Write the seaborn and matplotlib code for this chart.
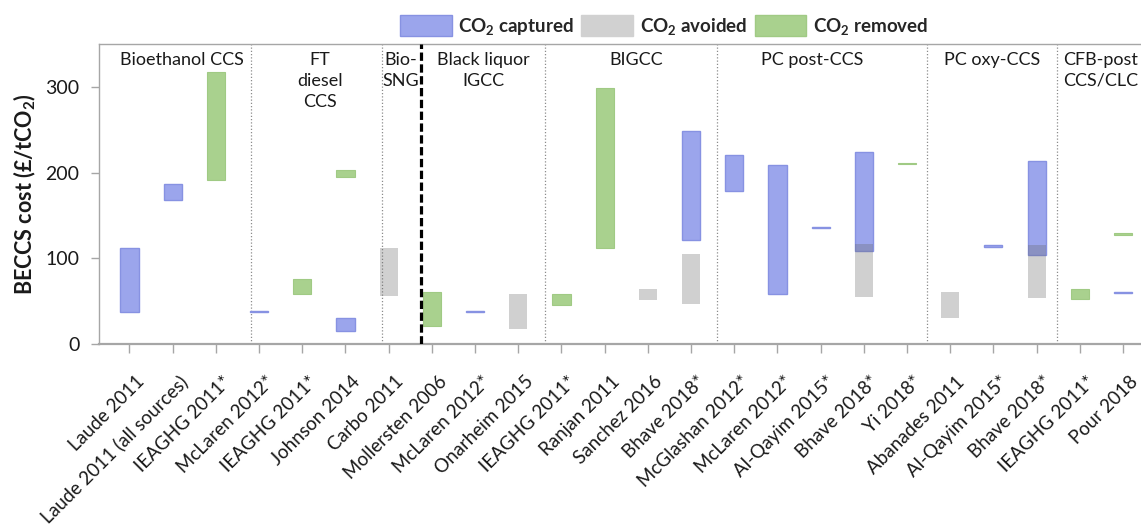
import numpy as np
import pandas as pd
import matplotlib
matplotlib.use("Agg")
import matplotlib.pyplot as plt
import matplotlib.transforms as mtransforms
from matplotlib.patches import Patch
import seaborn as sns

# ---- data -----------------------------------------------------------------
studies = ["Laude 2011", "Laude 2011 (all sources)", "IEAGHG 2011*", "McLaren 2012*",
           "IEAGHG 2011*", "Johnson 2014", "Carbo 2011", "Mollersten 2006",
           "McLaren 2012*", "Onarheim 2015", "IEAGHG 2011*", "Ranjan 2011",
           "Sanchez 2016", "Bhave 2018*", "McGlashan 2012*", "McLaren 2012*",
           "Al-Qayim 2015*", "Bhave 2018*", "Yi 2018*", "Abanades 2011",
           "Al-Qayim 2015*", "Bhave 2018*", "IEAGHG 2011*", "Pour 2018"]

# cost ranges (£/tCO2): study index, low, high
captured_idx = [0, 1, 3, 5, 8, 13, 14, 15, 16, 17, 20, 21, 23]
captured_low = [37, 168, 37, 15, 37, 121, 178, 58, 135.5, 109, 113.5, 104, 59.5]
captured_high = [112, 187, 38.5, 30, 38.5, 249, 221, 209, 137, 224, 115, 214, 61]

avoided_idx = [6, 9, 12, 13, 17, 19, 21]
avoided_low = [56, 17, 51, 47, 55, 30, 54]
avoided_high = [112, 58, 64, 105, 117, 61, 115]

removed_idx = [2, 4, 5, 7, 10, 11, 18, 22, 23]
removed_low = [191, 58, 195, 21, 46, 112, 210, 53, 127.5]
removed_high = [317, 76, 203, 61, 58, 299, 211.5, 64, 129]

groups = ["Bioethanol CCS", "FT\ndiesel\nCCS", "Bio-\nSNG", "Black liquor\nIGCC",
          "BIGCC", "PC post-CCS", "PC oxy-CCS", "CFB-post\nCCS/CLC"]
group_centers = [1.22, 4.41, 6.28, 8.19, 11.73, 15.81, 19.97, 22.48]
dividers = [2.82, 5.85, 9.61, 13.6, 18.47, 21.47]
bio_divider = 6.74

# ---- style ----------------------------------------------------------------
sns.set_theme(style="ticks")
plt.rcParams["font.family"] = ["Lato", "DejaVu Sans"]
plt.rcParams["mathtext.fontset"] = "custom"
plt.rcParams["mathtext.rm"] = "Lato"
plt.rcParams["mathtext.bf"] = "Lato:bold"
plt.rcParams["mathtext.it"] = "Lato:italic"

BLUE, BLUE_EDGE = "#9ba5ec", "#8792e2"
GREY = "#646464"
GREEN, GREEN_EDGE = "#a9d18e", "#a0ca84"
AXIS_GREY = "#a6a6a6"
TXT = "#1a1a1a"

fig = plt.figure(figsize=(11.41, 5.27), dpi=100)
ax = fig.add_axes([99 / 1141, 1 - 344 / 527, (1142 - 99) / 1141, 300 / 527])


def series_frame(idx, low, high):
    df = pd.DataFrame({"pos": idx, "low": low, "high": high}).sort_values("pos")
    df["span"] = df["high"] - df["low"]
    return df


cap = series_frame(captured_idx, captured_low, captured_high)
avo = series_frame(avoided_idx, avoided_low, avoided_high)
rem = series_frame(removed_idx, removed_low, removed_high)

common = dict(x="pos", y="span", native_scale=True, width=0.42, errorbar=None,
              saturation=1, ax=ax)
sns.barplot(data=cap, bottom=cap["low"].to_numpy(), color=BLUE,
            edgecolor=BLUE_EDGE, linewidth=1.0, **common)
sns.barplot(data=avo, bottom=avo["low"].to_numpy(), color=GREY, alpha=0.3,
            linewidth=0, **common)
sns.barplot(data=rem, bottom=rem["low"].to_numpy(), color=GREEN,
            edgecolor=GREEN_EDGE, linewidth=0.8, **common)

# technology group separators
for xd in dividers:
    ax.axvline(xd, color="#8c8c8c", lw=0.9, ls=(0, (1, 1.6)), zorder=0)
ax.axvline(bio_divider, color="black", lw=2.3, ls=(0, (2.6, 1.1)), zorder=3)

# group titles
for label, xc in zip(groups, group_centers):
    ax.text(xc, 341, label, ha="center", va="top", fontsize=13, color=TXT,
            linespacing=1.38)

# axes
ax.set_xlim(-0.706, 23.44)
ax.set_ylim(0, 350)
ax.set_yticks([0, 100, 200, 300])
ax.set_xticks(range(len(studies)))
ax.set_xticklabels([])
ax.tick_params(axis="x", length=6.5, width=1, color=AXIS_GREY, pad=3)
ax.tick_params(axis="y", length=6, width=1, color=AXIS_GREY, pad=8,
               labelsize=14, labelcolor=TXT)

# rotated study names, ending just right of and below each tick
label_tf = ax.get_xaxis_transform() + mtransforms.ScaledTranslation(
    12 / 100, -35 / 100, fig.dpi_scale_trans)
for i, name in enumerate(studies):
    ax.text(i, 0, name, transform=label_tf, rotation=45, rotation_mode="anchor",
            ha="right", va="center", fontsize=13.5, color=TXT, clip_on=False)

ax.set_xlabel("")
ax.set_ylabel(r"BECCS cost (£/tCO$_\mathbf{2}$)", fontsize=15.5, fontweight="bold",
              color=TXT, labelpad=5)
for side in ["left", "top", "right"]:
    ax.spines[side].set_color(AXIS_GREY)
    ax.spines[side].set_linewidth(1.0)
ax.spines["bottom"].set_color(AXIS_GREY)
ax.spines["bottom"].set_linewidth(1.6)

# legend
handles = [Patch(facecolor=BLUE, edgecolor=BLUE_EDGE, lw=1),
           Patch(facecolor="#d1d1d1", edgecolor="#d1d1d1", lw=1),
           Patch(facecolor=GREEN, edgecolor=GREEN_EDGE, lw=1)]
labels = [r"CO$_\mathbf{2}$ captured", r"CO$_\mathbf{2}$ avoided",
          r"CO$_\mathbf{2}$ removed"]
fig.legend(handles, labels, loc="center", bbox_to_anchor=(0.582, 0.951), ncol=3,
           frameon=False, handlelength=2.75, handleheight=1.3, handletextpad=0.35,
           columnspacing=0.4, prop={"weight": "bold", "size": 13.5})

fig.savefig("out.png", dpi=100)
